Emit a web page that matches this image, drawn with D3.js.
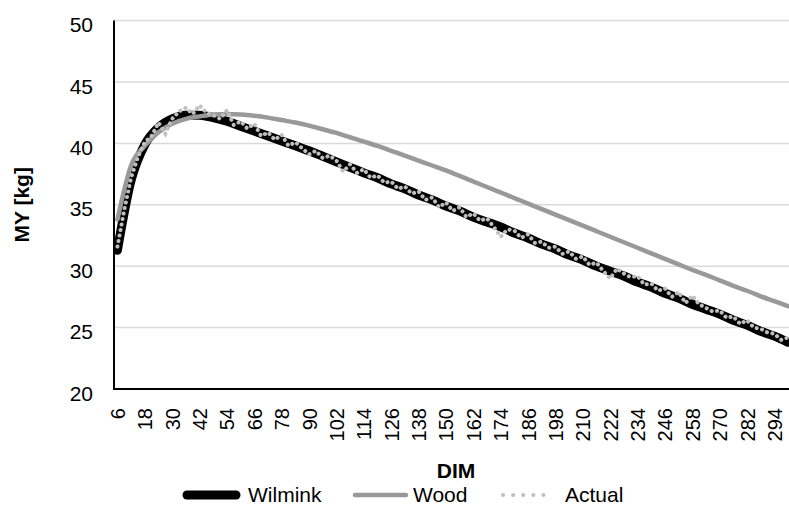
<!DOCTYPE html>
<html>
<head>
<meta charset="utf-8">
<script src="https://cdn.jsdelivr.net/npm/d3@7"></script>
<style>
  body { margin: 0; background: #fff; }
  text { font-family: Arial, "Liberation Sans", sans-serif; fill: #000; }
</style>
</head>
<body>
<script>
// Data
const fitDays = d3.range(6, 301, 6);       // 6, 12, ... 300
const actualDays = d3.range(6, 301, 3);    // 6, 9, ... 300
const xTicks = d3.range(6, 295, 12);       // 6, 18, ... 294
const yTicks = [20, 25, 30, 35, 40, 45, 50];

const wilmink = [31.3, 37.0, 39.9, 41.3, 42.0, 42.3, 42.3, 42.1, 41.8, 41.4,
                 41.0, 40.6, 40.2, 39.8, 39.4, 38.95, 38.5, 38.05, 37.6, 37.2,
                 36.7, 36.3, 35.8, 35.4, 34.9, 34.5, 34.0, 33.6, 33.2, 32.7,
                 32.3, 31.8, 31.4, 30.9, 30.5, 30.0, 29.6, 29.2, 28.7, 28.3,
                 27.8, 27.4, 26.9, 26.5, 26.1, 25.6, 25.2, 24.7, 24.3, 23.8];

const wood = [33.8, 38.2, 39.8, 40.9, 41.6, 42.0, 42.2, 42.35, 42.4, 42.35,
              42.25, 42.1, 41.9, 41.7, 41.45, 41.15, 40.85, 40.5, 40.15, 39.8,
              39.4, 39.0, 38.6, 38.2, 37.8, 37.35, 36.9, 36.45, 36.0, 35.55,
              35.1, 34.65, 34.2, 33.75, 33.3, 32.85, 32.4, 31.95, 31.5, 31.05,
              30.6, 30.15, 29.7, 29.3, 28.85, 28.4, 28.0, 27.55, 27.15, 26.75];

const actual = [31.6, 34.6, 37.2, 38.9, 40.1, 40.6, 41.7, 40.8, 42.0, 42.6,
                42.9, 42.4, 43.1, 42.5, 42.3, 42.0, 42.7, 41.5, 41.8, 41.2,
                41.6, 40.6, 40.9, 40.3, 40.7, 39.8, 40.1, 39.6, 39.1, 39.4,
                38.8, 39.0, 38.6, 37.7, 38.3, 37.6, 37.9, 37.2, 37.4, 36.8,
                36.9, 36.3, 36.5, 35.9, 36.1, 35.4, 35.6, 34.8, 35.2, 34.5,
                34.8, 34.0, 34.3, 33.7, 33.9, 33.2, 32.4, 33.0, 32.9, 32.3,
                32.6, 31.9, 32.0, 31.5, 31.6, 31.0, 31.2, 30.6, 30.8, 30.1,
                30.3, 29.6, 29.0, 29.8, 29.4, 29.1, 29.2, 28.5, 28.6, 28.0,
                28.2, 27.5, 27.9, 27.0, 27.6, 26.9, 26.6, 26.3, 26.4, 25.8,
                25.9, 25.3, 25.6, 25.0, 24.9, 24.6, 24.5, 24.0, 24.2];

const width = 789, height = 505;
const plotLeft = 114, plotRight = 789, plotTop = 20.6, plotBottom = 389;

const svg = d3.select('body')
              .append('svg')
              .attr('width', width)
              .attr('height', height);

const x = d3.scaleLinear().domain([4.5, 300.4]).range([plotLeft, plotRight]);
const y = d3.scaleLinear().domain([20, 50]).range([plotBottom, plotTop]);

// gridlines
svg.append('g')
   .selectAll('line')
   .data(yTicks.slice(1))
   .join('line')
     .attr('x1', plotLeft).attr('x2', plotRight)
     .attr('y1', d => y(d)).attr('y2', d => y(d))
     .attr('stroke', '#d9d9d9')
     .attr('stroke-width', 1.5);

// y axis
const yAxis = svg.append('g')
   .attr('transform', `translate(${plotLeft},0)`)
   .call(d3.axisLeft(y).tickValues(yTicks).tickSize(0).tickPadding(21));
yAxis.select('.domain').remove();
yAxis.selectAll('text')
   .attr('dy', '0.53em')
   .style('font-size', '21px');

// x axis
const xAxis = svg.append('g')
   .attr('transform', `translate(0,${plotBottom})`)
   .call(d3.axisBottom(x).tickValues(xTicks).tickSize(0));
xAxis.select('.domain').remove();
xAxis.selectAll('text')
   .attr('transform', 'rotate(-90)')
   .attr('x', -19)
   .attr('y', 0)
   .attr('dy', '0.35em')
   .attr('text-anchor', 'end')
   .style('font-size', '20px');

// clip
svg.append('clipPath').attr('id', 'plot')
   .append('rect').attr('x', plotLeft).attr('y', 0)
   .attr('width', plotRight - plotLeft).attr('height', plotBottom);

const smooth = d3.line().x(d => x(d[0])).y(d => y(d[1])).curve(d3.curveMonotoneX);
const straight = d3.line().x(d => x(d[0])).y(d => y(d[1]));

const lines = svg.append('g').attr('clip-path', 'url(#plot)');

lines.append('path')
   .attr('d', smooth(d3.zip(fitDays, wilmink)))
   .attr('fill', 'none')
   .attr('stroke', '#000')
   .attr('stroke-width', 9)
   .attr('stroke-linecap', 'round');

lines.append('path')
   .attr('d', smooth(d3.zip(fitDays, wood)))
   .attr('fill', 'none')
   .attr('stroke', '#999')
   .attr('stroke-width', 4.5)
   .attr('stroke-linecap', 'round');

lines.append('path')
   .attr('d', straight(d3.zip(actualDays, actual)))
   .attr('fill', 'none')
   .attr('stroke', '#bfbfbf')
   .attr('stroke-width', 4)
   .attr('stroke-linecap', 'round')
   .attr('stroke-dasharray', '0.1 5.5');

// axis lines on top
svg.append('line')
   .attr('x1', plotLeft).attr('x2', plotLeft).attr('y1', plotTop).attr('y2', plotBottom + 1)
   .attr('stroke', '#000').attr('stroke-width', 2);
svg.append('line')
   .attr('x1', plotLeft - 1).attr('x2', plotRight).attr('y1', plotBottom).attr('y2', plotBottom)
   .attr('stroke', '#000').attr('stroke-width', 2);

// axis titles
svg.append('text')
   .attr('transform', `translate(29,${(plotTop + plotBottom) / 2}) rotate(-90)`)
   .attr('text-anchor', 'middle')
   .style('font-size', '21px')
   .style('font-weight', 'bold')
   .text('MY [kg]');

svg.append('text')
   .attr('x', 456).attr('y', 478)
   .attr('text-anchor', 'middle')
   .style('font-size', '21px')
   .style('font-weight', 'bold')
   .text('DIM');

// legend
const legend = svg.append('g');
const ly = 495;
legend.append('line').attr('x1', 187).attr('x2', 236).attr('y1', ly).attr('y2', ly)
   .attr('stroke', '#000').attr('stroke-width', 9).attr('stroke-linecap', 'round');
legend.append('text').attr('x', 248).attr('y', ly + 7).style('font-size', '21px').text('Wilmink');

legend.append('line').attr('x1', 355).attr('x2', 406).attr('y1', ly).attr('y2', ly)
   .attr('stroke', '#999').attr('stroke-width', 4.5).attr('stroke-linecap', 'round');
legend.append('text').attr('x', 413).attr('y', ly + 7).style('font-size', '21px').text('Wood');

legend.append('line').attr('x1', 503).attr('x2', 553).attr('y1', ly).attr('y2', ly)
   .attr('stroke', '#bfbfbf').attr('stroke-width', 4).attr('stroke-linecap', 'round')
   .attr('stroke-dasharray', '0.1 10');
legend.append('text').attr('x', 565).attr('y', ly + 7).style('font-size', '21px').text('Actual');
</script>
</body>
</html>
